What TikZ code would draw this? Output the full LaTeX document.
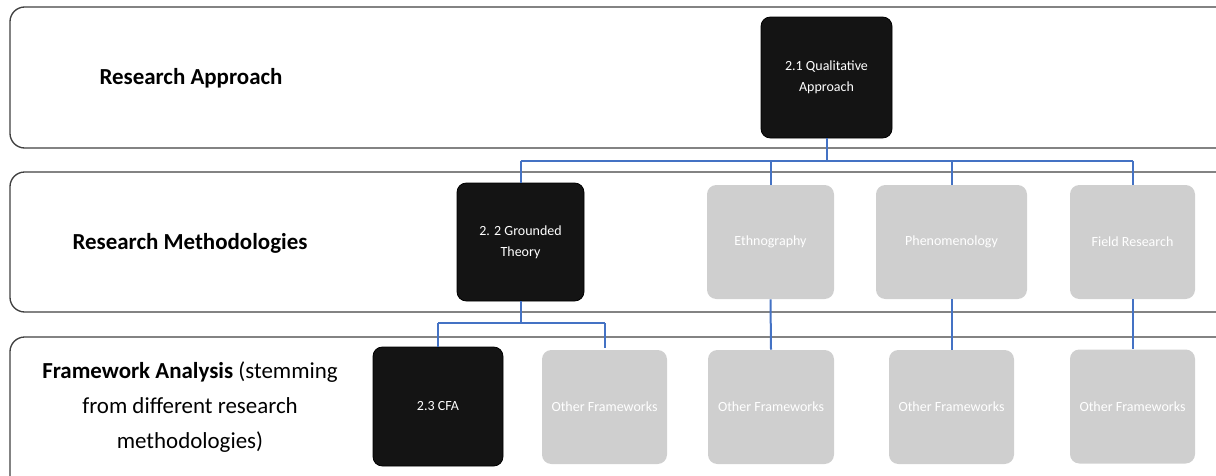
\documentclass[tikz,border=0pt]{standalone}
\usepackage{fontspec}
\setmainfont{Carlito}
\definecolor{linkblue}{HTML}{4472C4}
\begin{document}
\begin{tikzpicture}[x=0.75pt,y=-0.75pt,
  band/.style={draw=black!75, line width=1pt, rounded corners=11pt},
  level/.style={font=\fontsize{17.2}{26.3}\selectfont, align=center, text=black},
  darkbox/.style={draw=black, fill=black!92, rounded corners=7pt, text=white,
    font=\fontsize{10.5}{16}\selectfont, align=center, line width=0.6pt},
  greybox/.style={fill=black!19, rounded corners=7pt, text=white,
    font=\fontsize{10.5}{16}\selectfont, align=center},
  link/.style={draw=linkblue, line width=1.5pt},
]
\useasboundingbox (0,0) rectangle (1216,475);

% three horizontal bands
\draw[band] (10,7) rectangle (1236,148);
\draw[band] (10,172) rectangle (1236,312);
\draw[band] (10,337) rectangle (1236,490);

% band titles
\node[level, font=\fontsize{17.2}{26.3}\selectfont\bfseries] (tA) at (191,78) {Research Approach};
\node[level, font=\fontsize{17.2}{26.3}\selectfont\bfseries] (tM) at (190,243) {Research Methodologies};
\node[level] (tF) at (190,407) {\textbf{Framework Analysis} (stemming\\from different research\\methodologies)};

% level 1
\node[darkbox, minimum width=98.25pt, minimum height=90.75pt] (qa) at (826.5,77.5) {2.1 Qualitative\\Approach};

% level 2
\node[darkbox, minimum width=95.25pt, minimum height=88.5pt] (gt) at (520.5,242) {2. 2 Grounded\\Theory};
\node[greybox, minimum width=95.25pt, minimum height=85.5pt] (eth) at (770.5,242) {Ethnography};
\node[greybox, minimum width=113.25pt, minimum height=85.5pt] (phe) at (951.5,242) {Phenomenology};
\node[greybox, minimum width=93.75pt, minimum height=85.5pt] (fr) at (1132.5,242) {Field Research};

% level 3
\node[darkbox, minimum width=97.5pt, minimum height=89.25pt] (cfa) at (438,406.5) {2.3 CFA};
\node[greybox, minimum width=93.75pt, minimum height=85.5pt] (of1) at (604.5,407) {Other Frameworks};
\node[greybox, minimum width=94.5pt, minimum height=85.5pt] (of2) at (771,407) {Other Frameworks};
\node[greybox, minimum width=93.75pt, minimum height=85.5pt] (of3) at (951.5,407) {Other Frameworks};
\node[greybox, minimum width=93.75pt, minimum height=85.5pt] (of4) at (1132.5,406.5) {Other Frameworks};

% connectors
\coordinate (busA) at (826.5,161);
\coordinate (busB) at (520.5,323);
\draw[link] (qa.south) -- (qa.south |- busA);
\draw[link] (gt.north |- busA) -- (fr.north |- busA);
\draw[link] (gt.north |- busA) -- (gt.north);
\draw[link] (eth.north |- busA) -- (eth.north);
\draw[link] (phe.north |- busA) -- (phe.north);
\draw[link] (fr.north |- busA) -- (fr.north);

\draw[link] (gt.south) -- (busB);
\draw[link] (cfa.north |- busB) -- (of1.north |- busB);
\draw[link] (cfa.north |- busB) -- (cfa.north);
\draw[link] (of1.north |- busB) -- ([yshift=1.5pt]of1.north);
\draw[link] (eth.south) -- (of2.north);
\draw[link] (phe.south) -- (of3.north);
\draw[link] (fr.south) -- (of4.north);
\end{tikzpicture}
\end{document}
